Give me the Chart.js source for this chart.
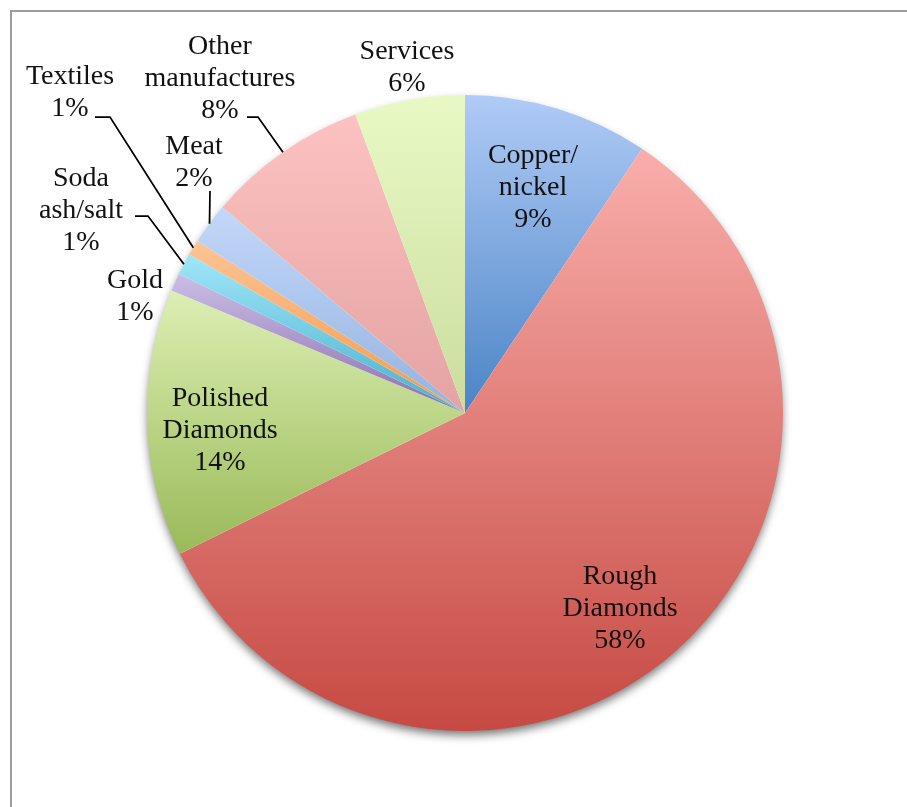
<!DOCTYPE html>
<html>
<head>
<meta charset="utf-8">
<script src="https://cdn.jsdelivr.net/npm/chart.js@4"></script>
<style>
  html, body { margin: 0; padding: 0; background: #fff; }
  canvas { display: block; }
</style>
</head>
<body>
<canvas id="pie" width="907" height="807"></canvas>
<script>
const categories = ["Copper/nickel", "Rough Diamonds", "Polished Diamonds", "Gold", "Soda ash/salt", "Textiles", "Meat", "Other manufactures", "Services"];
const shares = [9.4, 58.3, 13.6, 0.9, 1.1, 0.8, 2.1, 8.2, 5.6];
const labelLines = [["Copper/", "nickel"], ["Rough", "Diamonds"], ["Polished", "Diamonds"], ["Gold"], ["Soda", "ash/salt"], ["Textiles"], ["Meat"], ["Other", "manufactures"], ["Services"]];

// gradient stops per slice: [top, bottom]
const sliceColors = [
    ["#b0cbf6", "#4a84c6"],
    ["#f9aeab", "#c64a43"],
    ["#dcefb4", "#9aba58"],
    ["#cbbde6", "#8a70b0"],
    ["#a0e6f8", "#48b0cc"],
    ["#fcc494", "#f39a4c"],
    ["#c2d8fa", "#95b2de"],
    ["#fcc2c1", "#e3a3a2"],
    ["#e9f9c5", "#cadd9e"]
];

// label anchor (centre x, first baseline) as offset from the pie centre
const labelOffsets = [[68, -250], [155, 171], [-245, -7], [-330, -125], [-384, -227], [-395, -329], [-271, -259], [-245, -359], [-58, -354]];
// leader line start / elbow relative to the label anchor
const leaders = [null, null, null, null, [[54, 30], [67, 30]], [[25, 33], [40, 33]], [[16, 37], null], [[27, 63], [38, 63]], null];

const total = shares.reduce((a, b) => a + b, 0);
const FONT = '28px "Liberation Serif", "Times New Roman", serif';
const LINE_H = 32;

function sliceGradient(context) {
    const chart = context.chart;
    const i = context.dataIndex;
    const area = chart.chartArea;
    if (!area || i === undefined) return sliceColors[i || 0][1];
    const cy = (area.top + area.bottom) / 2;
    const r = Math.min(area.right - area.left, area.bottom - area.top) / 2;
    let start = -Math.PI / 2;
    for (let k = 0; k < i; k++) start += shares[k] / total * Math.PI * 2;
    const end = start + shares[i] / total * Math.PI * 2;
    let ys = [cy, cy + r * Math.sin(start), cy + r * Math.sin(end)];
    for (let a = -Math.PI / 2; a < end + 0.0001; a += Math.PI) {
        if (a > start && a < end) ys.push(cy + r * Math.sin(a));
    }
    const top = Math.min(...ys), bottom = Math.max(...ys);
    const g = chart.ctx.createLinearGradient(0, top, 0, bottom);
    g.addColorStop(0, sliceColors[i][0]);
    g.addColorStop(1, sliceColors[i][1]);
    return g;
}

const framePlugin = {
    id: "frame",
    beforeDraw(chart) {
        const ctx = chart.ctx;
        ctx.save();
        ctx.fillStyle = "#fff";
        ctx.fillRect(0, 0, chart.width, chart.height);
        ctx.fillStyle = "#9c9c9c";
        ctx.fillRect(10, 10, 2, chart.height - 10);
        ctx.fillRect(10, 10, chart.width - 10, 2);
        ctx.restore();
    },
    beforeDatasetsDraw(chart) {
        const arc = chart.getDatasetMeta(0).data[0];
        if (!arc) return;
        const ctx = chart.ctx;
        ctx.save();
        ctx.shadowColor = "rgba(0,0,0,0.55)";
        ctx.shadowBlur = 10;
        ctx.shadowOffsetY = 5;
        ctx.fillStyle = "#fff";
        ctx.beginPath();
        ctx.arc(arc.x, arc.y, arc.outerRadius - 1, 0, Math.PI * 2);
        ctx.fill();
        ctx.restore();
    }
};

const labelPlugin = {
    id: "sliceLabels",
    afterDatasetsDraw(chart) {
        const ctx = chart.ctx;
        const arcs = chart.getDatasetMeta(0).data;
        ctx.save();
        ctx.font = FONT;
        ctx.fillStyle = "#111";
        ctx.textAlign = "center";
        ctx.textBaseline = "alphabetic";
        arcs.forEach((arc, i) => {
            const ax = arc.x + labelOffsets[i][0];
            const ay = arc.y + labelOffsets[i][1];
            const lines = labelLines[i].concat([Math.round(shares[i] / total * 100) + "%"]);
            lines.forEach((t, j) => ctx.fillText(t, ax, ay + j * LINE_H));

            const ld = leaders[i];
            if (ld) {
                const mid = (arc.startAngle + arc.endAngle) / 2;
                const ex = arc.x + arc.outerRadius * Math.cos(mid);
                const ey = arc.y + arc.outerRadius * Math.sin(mid);
                ctx.beginPath();
                ctx.strokeStyle = "#000";
                ctx.lineWidth = 1.75;
                ctx.moveTo(ax + ld[0][0], ay + ld[0][1]);
                if (ld[1]) ctx.lineTo(ax + ld[1][0], ay + ld[1][1]);
                ctx.lineTo(ex, ey);
                ctx.stroke();
            }
        });
        ctx.restore();
    }
};

new Chart(document.querySelector("#pie"), {
    type: "pie",
    data: {
        labels: categories,
        datasets: [{
            data: shares,
            backgroundColor: sliceGradient,
            borderWidth: 0
        }]
    },
    options: {
        responsive: false,
        animation: false,
        devicePixelRatio: 1,
        layout: { padding: { left: 147, right: 124, top: 95, bottom: 76 } },
        plugins: {
            legend: { display: false },
            tooltip: { enabled: false }
        }
    },
    plugins: [framePlugin, labelPlugin]
});
</script>
</body>
</html>
